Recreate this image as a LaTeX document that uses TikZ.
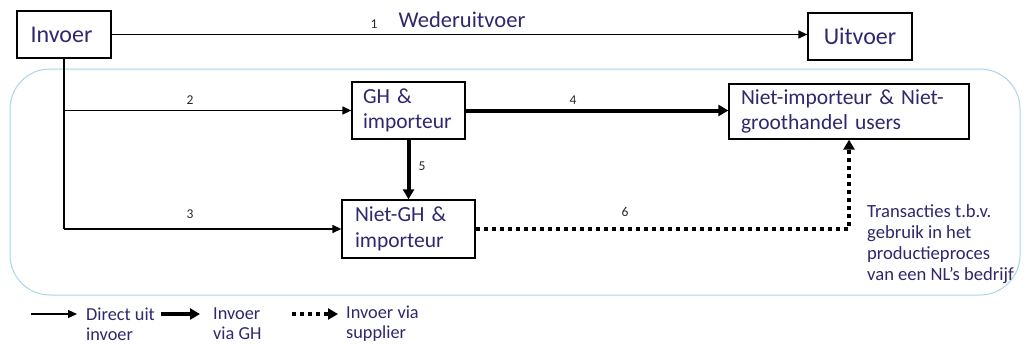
\documentclass[tikz,border=0pt]{standalone}
\usepackage{fontspec}
\setmainfont{Carlito}
\usetikzlibrary{arrows.meta}
\definecolor{txt}{RGB}{46,40,110}
\definecolor{num}{RGB}{40,40,40}
\definecolor{frame}{RGB}{170,215,230}
\tikzset{
  box/.style={draw=black,line width=1.3pt,inner sep=0pt,text=txt,font=\fontsize{21.5}{25.5}\selectfont},
  bigbox/.style={box,font=\fontsize{24}{28}\selectfont},
  boxl/.style={box,align=left},
  numlab/.style={text=num,font=\fontsize{13.5}{15}\selectfont,inner sep=0pt},
  thinarrow/.style={line width=1.3pt,-{Triangle[length=9pt,width=8pt]}},
  thickarrow/.style={line width=4pt,-{Triangle[length=10pt,width=11pt]}},
  dotarrow/.style={line width=4pt,dash pattern=on 4pt off 4pt,-{Triangle[length=10pt,width=11pt]}},
  legtext/.style={text=txt,font=\fontsize{18.3}{20}\selectfont,align=left,anchor=west,inner sep=0pt}
}
\begin{document}
\begin{tikzpicture}[x=1pt,y=-1pt]
\useasboundingbox (0,0) rectangle (1024,343);
\fill[white] (0,0) rectangle (1024,343);
% frame
\draw[frame,line width=1pt,rounded corners=40pt] (10,69) rectangle (1020,295);
% boxes
\node[bigbox,minimum width=94pt,minimum height=47pt] (inv) at (64,34.5) {Invoer\hspace*{5pt}};
\node[bigbox,minimum width=104pt,minimum height=47pt] (uit) at (860,36.5) {Uitvoer};
\node[boxl,minimum width=113pt,minimum height=57pt,text width=91pt,inner xsep=11pt] (gh) at (408.5,110.5) {GH \&\\importeur};
\node[boxl,minimum width=240pt,minimum height=55pt,text width=216pt,inner xsep=12pt] (nim) at (849,111.5) {Niet-importeur \& Niet-\\groothandel users};
\node[boxl,minimum width=133pt,minimum height=58pt,text width=107pt,inner xsep=13pt] (ngh) at (408.5,229) {Niet-GH \&\\importeur};
% junction coordinates
\coordinate (j2) at (inv.south |- gh.west);
\coordinate (j3) at (inv.south |- ngh.west);
\coordinate (c6) at (ngh.east -| nim.south);
% connectors
\draw[thinarrow] (inv.east) -- (inv.east -| uit.west);
\draw[line width=1.3pt] (inv.south) -- (j3);
\draw[thinarrow] (j2) -- (gh.west);
\draw[thinarrow] (j3) -- (ngh.west);
\draw[thickarrow] (gh.east) -- (gh.east -| nim.west);
\draw[thickarrow] (gh.south) -- (gh.south |- ngh.north);
\draw[dotarrow] (ngh.east) -- (c6) -- (nim.south);
% labels
\node[numlab] (n1) at (374,24) {1};
\node[text=txt,font=\fontsize{22.5}{26}\selectfont,inner sep=0pt] (wed) at (462,20) {Wederuitvoer};
\node[numlab] (n2) at (190,100) {2};
\node[numlab] (n3) at (190,214) {3};
\node[numlab] (n4) at (573,100) {4};
\node[numlab] (n5) at (422,166) {5};
\node[numlab] (n6) at (625,212) {6};
\node[text=txt,font=\fontsize{18.6}{21}\selectfont,align=left,anchor=north west,inner sep=0pt] (tr) at (867,204) {Transacties t.b.v.\\gebruik in het\\productieproces\\van een NL’s bedrijf};
% legend
\coordinate (l1a) at (31,314); \coordinate (l1b) at (77,314);
\coordinate (l2a) at (161,314); \coordinate (l2b) at (200,314);
\coordinate (l3a) at (292,314); \coordinate (l3b) at (338,314);
\draw[thinarrow] (l1a) -- (l1b);
\draw[thickarrow] (l2a) -- (l2b);
\draw[dotarrow] (l3a) -- (l3b);
\node[legtext] (lt1) at (86,324) {Direct uit\\invoer};
\node[legtext] (lt2) at (213,324) {Invoer\\via GH};
\node[legtext] (lt3) at (346,324) {Invoer via\\supplier};
\end{tikzpicture}
\end{document}
